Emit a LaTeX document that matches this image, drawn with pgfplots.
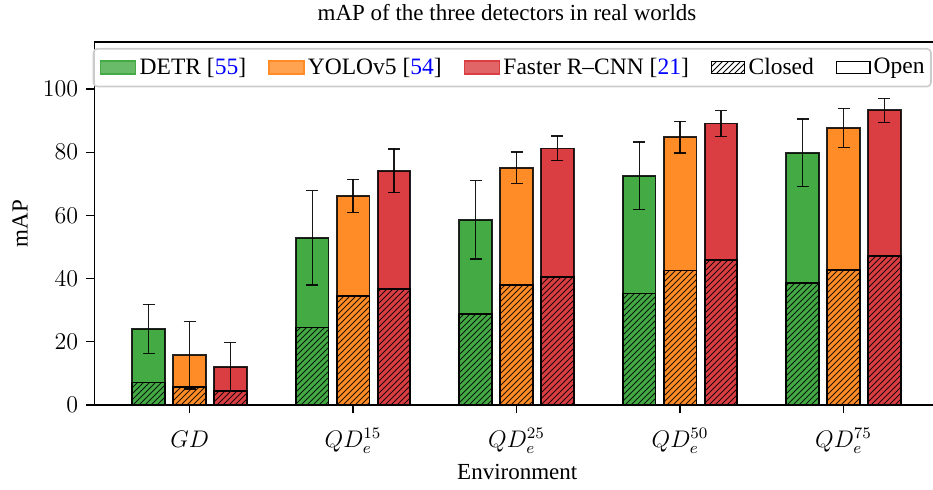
\documentclass[border=0pt]{standalone}
\usepackage{fontspec}
\setmainfont{Liberation Serif}
\usepackage{pgfplots}
\pgfplotsset{compat=1.18}
\usepackage{pgfplotstable}
\usetikzlibrary{patterns}

\definecolor{cgreen}{HTML}{44AA44}
\definecolor{corange}{HTML}{FF8C26}
\definecolor{cred}{HTML}{DA3E42}

% x: environment index, open: open-set mAP, err: std, closed: closed-set mAP
\pgfplotstableread{
x open err closed
0 24.1 7.8 7.1
1 52.9 14.9 24.5
2 58.6 12.4 28.9
3 72.5 10.7 35.3
4 79.8 10.7 38.7
}\detr
\pgfplotstableread{
x open err closed
0 15.7 10.7 5.8
1 66.2 5.2 34.5
2 75.1 5.0 38.0
3 84.8 5.0 42.6
4 87.7 6.2 42.8
}\yolo
\pgfplotstableread{
x open err closed
0 12.0 7.7 4.5
1 74.1 6.9 36.6
2 81.2 3.9 40.4
3 89.1 4.1 46.0
4 93.3 3.8 47.2
}\frcnn

\pgfplotsset{
  barbase/.style={ybar, bar width=0.2, draw=black, draw opacity=0.85,
    line width=0.9pt, forget plot},
  errbase/.style={draw=none, mark=none, forget plot,
    error bars/.cd, y dir=both, y explicit, error mark=-,
    error bar style={line width=0.7pt, draw=black, draw opacity=0.9},
    error mark options={rotate=90, mark size=3pt, line width=0.7pt, draw=black}},
}

\begin{document}
\fontsize{11.5}{13.8}\selectfont
\begin{tikzpicture}
\begin{axis}[
  at={(0,0)}, anchor=south west,
  scale only axis,
  width=420.25pt, height=181.5pt,
  xmin=-0.5817, xmax=4.559,
  ymin=0, ymax=114.9,
  xtick={0,1,2,3,4},
  xticklabels={$GD$, $QD_e^{15}$, $QD_e^{25}$, $QD_e^{50}$, $QD_e^{75}$},
  ytick={0,20,40,60,80,100},
  tick pos=left,
  tick align=outside,
  major tick length=4.2pt,
  tick style={line width=0.65pt, black},
  axis line style={line width=0.65pt},
  xticklabel style={anchor=base, yshift=-17pt},
  title={mAP of the three detectors in real worlds},
  xlabel={Environment},
  ylabel={mAP},
  every axis title/.style={at={(axis description cs:0.4908,1)}, anchor=base, yshift=10.5pt},
  every axis x label/.style={at={(axis description cs:0.503,0)}, anchor=base, yshift=-37.5pt},
  every axis y label/.style={at={(axis description cs:0,0.5)}, anchor=base, rotate=90, yshift=33.4pt},
  legend columns=5,
  legend style={at={(0,1)}, anchor=north west, xshift=-0.9pt, yshift=-3pt,
    draw=black!20, line width=0.8pt, rounded corners=2pt,
    fill=white, fill opacity=0.8, text opacity=1,
    font=\fontsize{11.75}{14}\selectfont,
    inner xsep=3.2pt, inner ysep=4.5pt,
    nodes={inner sep=0pt, anchor=west},
    /tikz/every even column/.append style={column sep=11pt},
    /tikz/every odd column/.append style={column sep=1.6pt}},
]
% DETR
\addplot[barbase, fill=cgreen, bar shift=-0.25] table[x=x, y=open] {\detr};
\addplot[barbase, fill=cgreen, bar shift=-0.25, postaction={pattern=north east lines}] table[x=x, y=closed] {\detr};
\addplot[errbase] table[x expr=\thisrow{x}-0.25, y=open, y error=err] {\detr};
% YOLOv5
\addplot[barbase, fill=corange, bar shift=0] table[x=x, y=open] {\yolo};
\addplot[barbase, fill=corange, bar shift=0, postaction={pattern=north east lines}] table[x=x, y=closed] {\yolo};
\addplot[errbase] table[x=x, y=open, y error=err] {\yolo};
% Faster R-CNN
\addplot[barbase, fill=cred, bar shift=0.25] table[x=x, y=open] {\frcnn};
\addplot[barbase, fill=cred, bar shift=0.25, postaction={pattern=north east lines}] table[x=x, y=closed] {\frcnn};
\addplot[errbase] table[x expr=\thisrow{x}+0.25, y=open, y error=err] {\frcnn};

% legend entries
\addlegendimage{legend image code/.code={\fill[cgreen, sharp corners] (0pt,-3.2pt) rectangle (17.5pt,3.2pt);}}
\addlegendentry{DETR [\textcolor{blue}{55}]}
\addlegendimage{legend image code/.code={\fill[corange, sharp corners] (0pt,-3.2pt) rectangle (17.5pt,3.2pt);}}
\addlegendentry{YOLOv5 [\textcolor{blue}{54}]}
\addlegendimage{legend image code/.code={\fill[cred, sharp corners] (0pt,-3.2pt) rectangle (17.5pt,3.2pt);}}
\addlegendentry{Faster R–CNN [\textcolor{blue}{21}]}
\addlegendimage{legend image code/.code={\draw[black, sharp corners, line width=0.6pt, pattern=north east lines] (0.4pt,-3pt) rectangle (17.1pt,3pt);}}
\addlegendentry{Closed}
\addlegendimage{legend image code/.code={\draw[black, sharp corners, line width=0.6pt, fill=white] (0.4pt,-3pt) rectangle (17.1pt,3pt);}}
\addlegendentry{Open}
\end{axis}
\pgfresetboundingbox
\path[use as bounding box] (-47.25pt,-42.5pt) rectangle (419.25pt,202.5pt);
\end{tikzpicture}
\end{document}
